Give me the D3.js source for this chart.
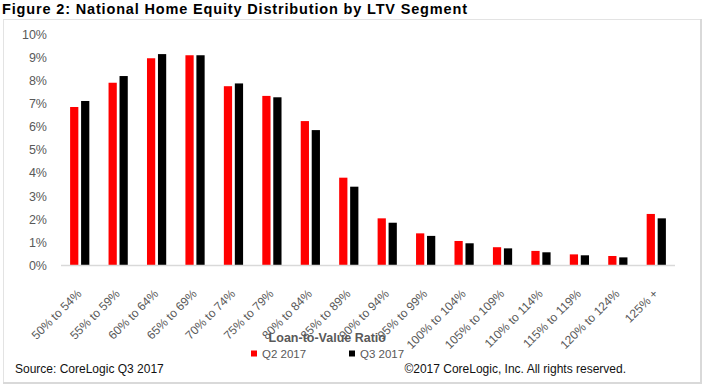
<!DOCTYPE html>
<html>
<head>
<meta charset="utf-8">
<script src="https://cdn.jsdelivr.net/npm/d3@7"></script>
<style>
  html, body { margin: 0; padding: 0; background: #fff; }
  svg { display: block; }
</style>
</head>
<body>
<svg id="chart" width="710" height="392"></svg>
<script>
const categories = ["50% to 54%", "55% to 59%", "60% to 64%", "65% to 69%", "70% to 74%", "75% to 79%",
  "80% to 84%", "85% to 89%", "90% to 94%", "95% to 99%", "100% to 104%", "105% to 109%",
  "110% to 114%", "115% to 119%", "120% to 124%", "125% +"];
const seriesNames = ["Q2 2017", "Q3 2017"];
const q2_2017 = [6.84, 7.89, 8.95, 9.08, 7.74, 7.32, 6.23, 3.78, 2.02, 1.37, 1.04, 0.77, 0.61, 0.46, 0.39, 2.21];
const q3_2017 = [7.10, 8.18, 9.13, 9.08, 7.86, 7.26, 5.84, 3.39, 1.83, 1.26, 0.94, 0.72, 0.55, 0.42, 0.33, 2.02];
const yTicks = [0, 1, 2, 3, 4, 5, 6, 7, 8, 9, 10];
const colors = ["#ff0000", "#000000"];

const titleText = "Figure 2: National Home Equity Distribution by LTV Segment";
const legendTitle = "Loan-to-Value Ratio";
const sourceText = "Source: CoreLogic Q3 2017";
const copyrightText = "\u00A92017 CoreLogic, Inc. All rights reserved.";

const svg = d3.select("#chart");
const font = "'Liberation Sans', Arial, sans-serif";
const grey = "#595959";

// frame
svg.append("rect").attr("x", 3.5).attr("y", 19.5).attr("width", 697).attr("height", 363)
  .attr("fill", "#fff").attr("stroke", "#e3e3e3").attr("stroke-width", 1);
svg.append("line").attr("x1", 701).attr("x2", 701).attr("y1", 19).attr("y2", 384)
  .attr("stroke", "#d9d9d9").attr("stroke-width", 2);
svg.append("line").attr("x1", 3).attr("x2", 702).attr("y1", 383).attr("y2", 383)
  .attr("stroke", "#d9d9d9").attr("stroke-width", 2);

// title
svg.append("text").attr("x", 2).attr("y", 14)
  .attr("font-family", font).attr("font-weight", "bold").attr("font-size", 14.5)
  .attr("fill", "#000").attr("textLength", 465).attr("lengthAdjust", "spacing")
  .text(titleText);

const x0 = d3.scaleBand().domain(categories).range([60.5, 675.5]).paddingInner(0.5).paddingOuter(0.25);
const x1 = d3.scaleBand().domain(seriesNames).range([0, x0.bandwidth()]).paddingInner(0.25);
const y = d3.scaleLinear().domain([0, 10]).range([265, 34]);

// y axis
const yAxis = d3.axisLeft(y).tickValues(yTicks).tickFormat(d => d + "%").tickSize(0).tickPadding(0);
const yg = svg.append("g").attr("transform", "translate(47,0)").call(yAxis);
yg.select(".domain").remove();
yg.selectAll("text").attr("font-family", font).attr("font-size", 12.5).attr("fill", grey).attr("dy", "0.35em");

// bars
const data = [q2_2017, q3_2017];
const groups = svg.append("g").selectAll("g").data(categories).join("g")
  .attr("transform", d => `translate(${x0(d)},0)`);
groups.selectAll("rect").data((d, i) => seriesNames.map((s, j) => ({ s, v: data[j][i], j })))
  .join("rect")
  .attr("x", d => x1(d.s))
  .attr("width", x1.bandwidth())
  .attr("y", d => y(d.v))
  .attr("height", d => y(0) - y(d.v))
  .attr("fill", d => colors[d.j]);

// x axis
const xAxis = d3.axisBottom(x0).tickSize(0).tickPadding(0);
const xg = svg.append("g").attr("transform", "translate(0,265)").call(xAxis);
xg.select(".domain").attr("stroke", "#d9d9d9").attr("stroke-width", 1.5).attr("d", "M61,0.5H675");
xg.selectAll("text")
  .attr("font-family", font).attr("font-size", 12).attr("fill", grey)
  .attr("text-anchor", "end").attr("dy", null).attr("y", 0)
  .attr("transform", "translate(2.5,29.5) rotate(-45)");

// legend
svg.append("text").attr("x", 327.3).attr("y", 342)
  .attr("text-anchor", "middle").attr("font-family", font).attr("font-weight", "bold")
  .attr("font-size", 12.5).attr("fill", grey).text(legendTitle);
const legX = [251, 349];
seriesNames.forEach((s, i) => {
  svg.append("rect").attr("x", legX[i]).attr("y", 350.5).attr("width", 6).attr("height", 6)
    .attr("fill", colors[i]);
  svg.append("text").attr("x", legX[i] + 11).attr("y", 357.5)
    .attr("font-family", font).attr("font-size", 11.5).attr("fill", grey).text(s);
});

// footer
svg.append("text").attr("x", 15).attr("y", 373)
  .attr("font-family", font).attr("font-size", 12).attr("fill", "#111").text(sourceText);
svg.append("text").attr("x", 626).attr("y", 373).attr("text-anchor", "end")
  .attr("font-family", font).attr("font-size", 12).attr("fill", "#111").text(copyrightText);
</script>
</body>
</html>
